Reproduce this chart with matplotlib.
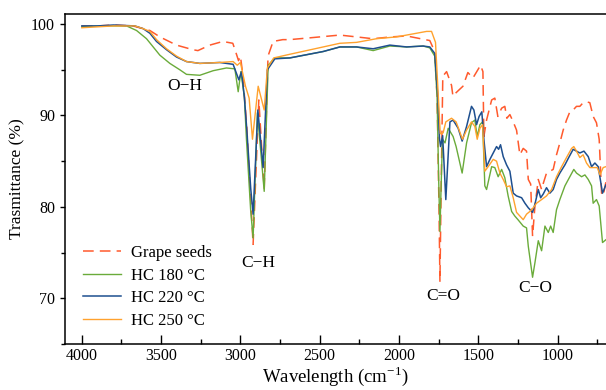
import matplotlib
matplotlib.use("Agg")
import matplotlib.pyplot as plt
from matplotlib.ticker import MultipleLocator

plt.rcParams["font.family"] = "serif"
plt.rcParams["font.serif"] = ["Liberation Serif", "DejaVu Serif"]
plt.rcParams["mathtext.fontset"] = "stix"

# FTIR spectra (wavenumber cm-1, transmittance %)
gs_wn = [4000, 3900, 3800, 3678, 3571, 3508, 3403, 3300, 3268, 3193, 3111, 3048,
         3023, 3012, 3000, 2985, 2960, 2920, 2884, 2850, 2826, 2794, 2733, 2690,
         2560, 2373, 2165, 2050, 1951, 1806, 1775, 1760, 1748, 1742, 1736, 1724,
         1700, 1669, 1660, 1640, 1597, 1566, 1534, 1503, 1486, 1471, 1465, 1448,
         1416, 1396, 1377, 1353, 1333, 1320, 1301, 1280, 1259, 1238, 1217, 1196,
         1185, 1170, 1158, 1143, 1122, 1101, 1090, 1070, 1049, 1028, 1007, 986,
         965, 944, 923, 902, 881, 860, 839, 818, 797, 776, 755, 738, 723, 713, 696]
gs_t = [99.8, 99.8, 99.9, 99.8, 99.3, 98.6, 97.7, 97.2, 97.1, 97.7, 98.1, 97.9,
        96.6, 96.0, 96.5, 94.5, 88.8, 75.9, 91.7, 81.9, 96.5, 98.1, 98.3, 98.3,
        98.5, 98.8, 98.4, 98.6, 98.7, 98.2, 97.0, 92.0, 80.0, 71.8, 80.0, 94.3,
        94.8, 93.3, 92.1, 92.5, 93.2, 94.7, 94.1, 95.0, 95.5, 94.8, 87.7, 89.5,
        91.7, 91.9, 89.9, 90.8, 91.0, 89.7, 90.1, 89.3, 88.4, 85.7, 86.4, 86.1,
        83.0, 82.5, 76.8, 80.1, 83.0, 81.9, 82.6, 83.7, 83.9, 84.1, 85.7, 87.0,
        88.4, 89.5, 90.4, 90.6, 91.0, 91.0, 91.4, 91.5, 91.4, 89.9, 89.2, 87.4,
        81.5, 81.2, 82.7]

hc180_wn = [4000, 3900, 3800, 3718, 3655, 3592, 3550, 3508, 3445, 3382, 3340, 3256,
            3172, 3088, 3035, 3014, 2997, 2975, 2962, 2935, 2920, 2893, 2850, 2825,
            2783, 2688, 2478, 2373, 2268, 2163, 2058, 1952, 1848, 1806, 1775, 1760,
            1750, 1742, 1735, 1726, 1710, 1690, 1659, 1640, 1602, 1574, 1543, 1522,
            1507, 1490, 1473, 1459, 1448, 1416, 1396, 1375, 1353, 1333, 1312, 1290,
            1270, 1250, 1217, 1196, 1185, 1158, 1143, 1122, 1101, 1080, 1059, 1044,
            1028, 1007, 986, 954, 923, 898, 881, 849, 828, 807, 786, 776, 755, 738,
            717, 696]
hc180_t = [99.7, 99.8, 99.8, 99.8, 99.3, 98.4, 97.5, 96.6, 95.7, 95.0, 94.5, 94.4,
           94.9, 95.2, 95.1, 92.6, 94.8, 92.0, 87.4, 79.5, 76.6, 90.3, 81.7, 95.5,
           96.3, 96.3, 97.0, 97.5, 97.5, 97.1, 97.6, 97.5, 97.6, 97.4, 96.5, 92.0,
           83.0, 77.3, 82.0, 87.4, 87.0, 88.6, 87.7, 86.6, 83.7, 87.0, 89.2, 89.5,
           87.7, 89.0, 89.3, 82.3, 81.9, 84.4, 84.3, 83.3, 84.1, 83.2, 81.2, 79.5,
           79.0, 78.6, 77.9, 77.7, 75.7, 72.3, 73.9, 76.3, 75.2, 77.9, 77.2, 77.9,
           77.2, 79.7, 80.8, 82.3, 83.3, 84.1, 83.7, 83.3, 83.5, 83.0, 82.3, 80.4,
           80.8, 80.1, 76.1, 76.4]

hc220_wn = [4000, 3900, 3800, 3666, 3613, 3571, 3529, 3466, 3403, 3340, 3256, 3130,
            3046, 3010, 2993, 2975, 2960, 2935, 2920, 2890, 2857, 2830, 2783, 2688,
            2478, 2373, 2268, 2163, 2058, 1952, 1848, 1806, 1775, 1755, 1745, 1738,
            1725, 1705, 1679, 1659, 1627, 1602, 1574, 1543, 1528, 1511, 1495, 1478,
            1465, 1448, 1427, 1406, 1385, 1372, 1360, 1343, 1322, 1301, 1280, 1259,
            1227, 1206, 1185, 1158, 1143, 1122, 1107, 1091, 1070, 1049, 1028, 1007,
            986, 954, 927, 902, 881, 860, 834, 807, 786, 765, 744, 717, 696]
hc220_t = [99.8, 99.8, 99.9, 99.8, 99.5, 99.0, 98.1, 97.2, 96.4, 95.9, 95.7, 95.8,
           95.6, 93.9, 94.8, 92.0, 88.5, 82.0, 79.2, 90.6, 84.3, 95.0, 96.2, 96.3,
           97.0, 97.5, 97.5, 97.3, 97.7, 97.5, 97.6, 97.5, 96.8, 92.0, 87.5, 86.6,
           87.8, 80.8, 89.3, 89.5, 88.6, 87.2, 88.8, 91.0, 90.6, 89.0, 89.9, 90.4,
           87.4, 84.4, 85.2, 85.9, 86.6, 86.3, 86.8, 85.5, 84.6, 83.9, 81.5, 81.2,
           81.0, 80.4, 79.9, 79.4, 80.3, 81.9, 81.0, 81.4, 82.1, 81.5, 81.9, 83.0,
           83.7, 84.6, 85.5, 86.3, 86.1, 85.9, 86.1, 85.5, 84.4, 84.8, 84.4, 81.5,
           82.4]

hc250_wn = [4000, 3900, 3800, 3666, 3613, 3571, 3529, 3466, 3403, 3340, 3256, 3130,
            3046, 3020, 3000, 2968, 2945, 2924, 2888, 2850, 2830, 2790, 2688, 2478,
            2373, 2268, 2142, 2016, 1952, 1826, 1795, 1770, 1755, 1740, 1722, 1705,
            1669, 1640, 1600, 1574, 1543, 1522, 1507, 1490, 1473, 1459, 1438, 1406,
            1385, 1364, 1343, 1322, 1301, 1280, 1259, 1238, 1217, 1196, 1175, 1154,
            1133, 1101, 1070, 1038, 1007, 975, 944, 912, 898, 881, 860, 839, 818,
            797, 770, 750, 733, 713, 696]
hc250_t = [99.6, 99.7, 99.8, 99.8, 99.5, 99.2, 98.3, 97.3, 96.5, 95.9, 95.7, 95.8,
           95.9, 95.5, 95.8, 93.2, 91.9, 87.4, 93.2, 90.6, 95.2, 96.3, 96.7, 97.5,
           97.9, 98.0, 98.4, 98.6, 98.8, 99.2, 99.2, 98.0, 93.0, 88.0, 88.1, 89.3,
           89.7, 89.3, 87.4, 88.4, 89.3, 88.8, 87.4, 88.6, 89.0, 83.9, 84.4, 85.2,
           85.0, 83.7, 83.0, 82.2, 82.3, 81.0, 79.4, 79.0, 78.6, 79.2, 79.5, 79.9,
           80.4, 80.8, 81.2, 81.9, 83.3, 84.4, 85.4, 86.4, 86.6, 86.1, 85.4, 85.7,
           84.8, 84.3, 84.3, 84.3, 83.5, 84.3, 84.4]

fig = plt.figure(figsize=(6.06, 3.90), dpi=100)
ax = fig.add_axes([0.107, 0.118, 0.893, 0.846])

ax.plot(gs_wn, gs_t, color="#FF5A2D", lw=1.1, ls=(0, (7, 4)), label="Grape seeds")
ax.plot(hc180_wn, hc180_t, color="#6AAB3A", lw=1.0, label="HC 180 °C")
ax.plot(hc220_wn, hc220_t, color="#1E4F8F", lw=1.1, label="HC 220 °C")
ax.plot(hc250_wn, hc250_t, color="#FFA22E", lw=1.0, label="HC 250 °C")

ax.text(3350, 93.2, "O\u2212H", ha="center", va="center", fontsize=12.5)
ax.text(2890, 73.9, "C\u2212H", ha="center", va="center", fontsize=12.5)
ax.text(1724, 70.3, "C=O", ha="center", va="center", fontsize=12.5)
ax.text(1143, 71.1, "C\u2212O", ha="center", va="center", fontsize=12.5)

ax.set_xlim(4107, 695)
ax.set_ylim(65, 101.1)
ax.xaxis.set_major_locator(MultipleLocator(500))
ax.xaxis.set_minor_locator(MultipleLocator(250))
ax.yaxis.set_major_locator(MultipleLocator(10))
ax.yaxis.set_minor_locator(MultipleLocator(5))
ax.tick_params(axis="x", which="major", direction="in", length=6.5, width=1, labelsize=11.5, pad=3)
ax.tick_params(axis="x", which="minor", direction="in", length=3.5, width=1)
ax.tick_params(axis="y", which="major", direction="out", length=3.5, width=1, labelsize=11.5)
ax.tick_params(axis="y", which="minor", direction="out", length=3, width=1)
ax.spines["right"].set_visible(False)
for s in ["left", "bottom", "top"]:
    ax.spines[s].set_linewidth(1.1)

ax.set_xlabel("Wavelength (cm$^{\\mathregular{-1}}$)", fontsize=13.5, labelpad=0)
ax.set_ylabel("Trasmittance (%)", fontsize=12.5, labelpad=4)

ax.legend(loc="lower left", bbox_to_anchor=(0.005, 0.0), frameon=False, fontsize=12,
          handlelength=2.3, labelspacing=0.4, handletextpad=0.6)

fig.savefig("out.png", dpi=100)
